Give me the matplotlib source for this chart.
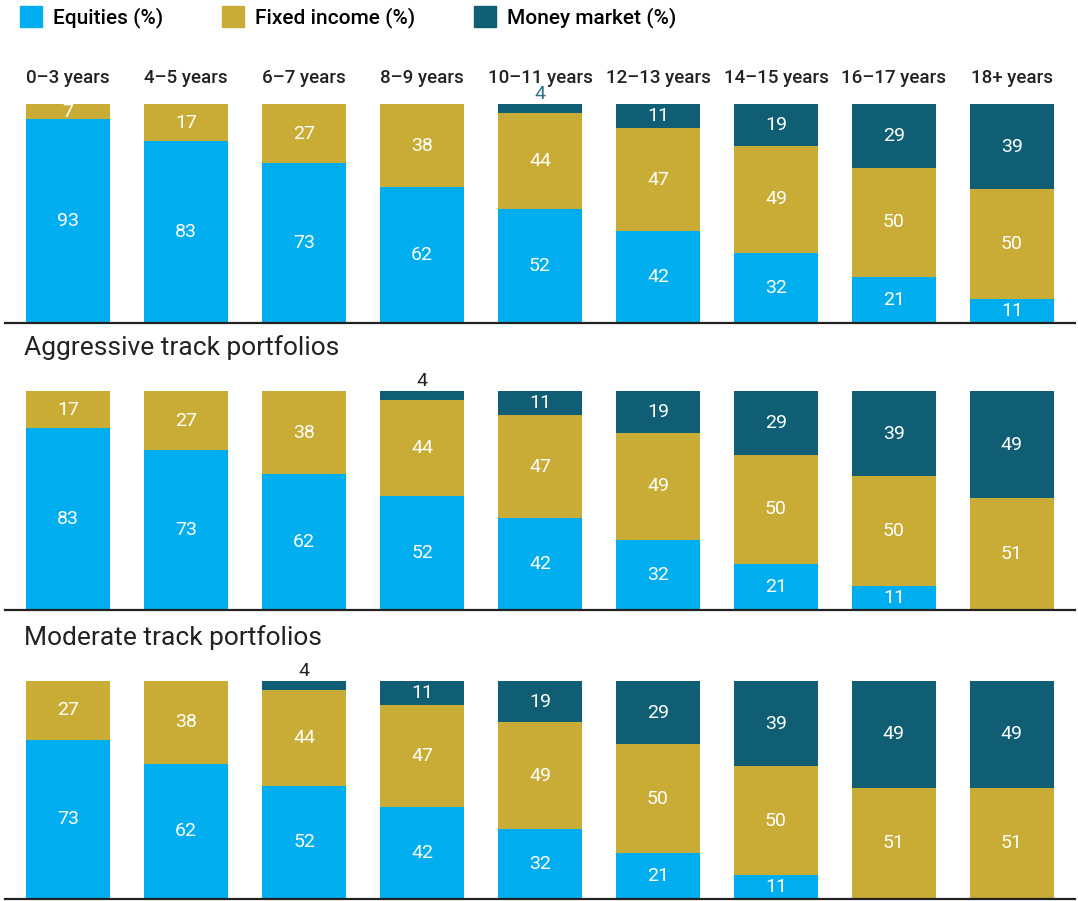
import matplotlib.pyplot as plt
from matplotlib.patches import Patch
import numpy as np

plt.rcParams['font.family'] = ['Roboto', 'DejaVu Sans']

ages = ['0\u20133 years', '4\u20135 years', '6\u20137 years', '8\u20139 years',
        '10\u201311 years', '12\u201313 years', '14\u201315 years',
        '16\u201317 years', '18+ years']

# top panel (no title shown)
top_eq = [93, 83, 73, 62, 52, 42, 32, 21, 11]
top_fi = [7, 17, 27, 38, 44, 47, 49, 50, 50]
top_mm = [0, 0, 0, 0, 4, 11, 19, 29, 39]

# aggressive track
agg_eq = [83, 73, 62, 52, 42, 32, 21, 11, 0]
agg_fi = [17, 27, 38, 44, 47, 49, 50, 50, 51]
agg_mm = [0, 0, 0, 4, 11, 19, 29, 39, 49]

# moderate track
mod_eq = [73, 62, 52, 42, 32, 21, 11, 0, 0]
mod_fi = [27, 38, 44, 47, 49, 50, 50, 51, 51]
mod_mm = [0, 0, 4, 11, 19, 29, 39, 49, 49]

series_names = ['Equities (%)', 'Fixed income (%)', 'Money market (%)']
colors = ['#00aeef', '#c9ac35', '#0f5e73']

panels = [
    (None, top_eq, top_fi, top_mm, '#2f7184'),
    ('Aggressive track portfolios', agg_eq, agg_fi, agg_mm, '#222222'),
    ('Moderate track portfolios', mod_eq, mod_fi, mod_mm, '#222222'),
]

W, H = 1078, 901
fig = plt.figure(figsize=(W / 100, H / 100), dpi=100)

# axes rectangles in pixels: (top, bottom)
rects = [(104, 323), (391, 610), (681, 899)]
left_px, right_px = 5, 1075

x = np.arange(len(ages))
for (title, eq, fi, mm, small_col), (t, b) in zip(panels, rects):
    ax = fig.add_axes([left_px / W, 1 - b / H, (right_px - left_px) / W, (b - t) / H])
    eq = np.array(eq); fi = np.array(fi); mm = np.array(mm)
    ax.bar(x, eq, width=0.71, color=colors[0])
    ax.bar(x, fi, width=0.71, bottom=eq, color=colors[1])
    ax.bar(x, mm, width=0.71, bottom=eq + fi, color=colors[2])
    for i in range(len(x)):
        bottoms = [0, eq[i], eq[i] + fi[i]]
        for v, bt in zip([eq[i], fi[i], mm[i]], bottoms):
            if v == 0:
                continue
            if v < 6:
                ax.text(x[i], bt + v + 0.5, str(v), ha='center', va='bottom',
                        color=small_col, fontsize=14)
            else:
                ax.text(x[i], bt + v / 2, str(v), ha='center', va='center',
                        color='white', fontsize=14)
    ax.set_xlim(-0.535, 8.535)
    ax.set_ylim(0, 100)
    ax.axis('off')
    ax.axhline(0, color='#222222', lw=1.6, clip_on=False)
    if title:
        fig.text(24 / W, 1 - (t - 43) / H, title, ha='left', va='center',
                 fontsize=19, color='#222222')
    else:
        for i, lab in enumerate(ages):
            ax.text(x[i], 112, lab, ha='center', va='center', fontsize=13.5,
                    fontweight='medium', color='#222222')

handles = [Patch(color=c, label=n) for c, n in zip(colors, series_names)]
fig.legend(handles=handles, loc='upper left', bbox_to_anchor=(0.001, 1.014),
           ncol=3, frameon=False, handlelength=1.05,
           handleheight=1.15, handletextpad=0.55, columnspacing=2.8,
           prop={'weight': 'medium', 'size': 15})

fig.savefig('out.png', dpi=100)
